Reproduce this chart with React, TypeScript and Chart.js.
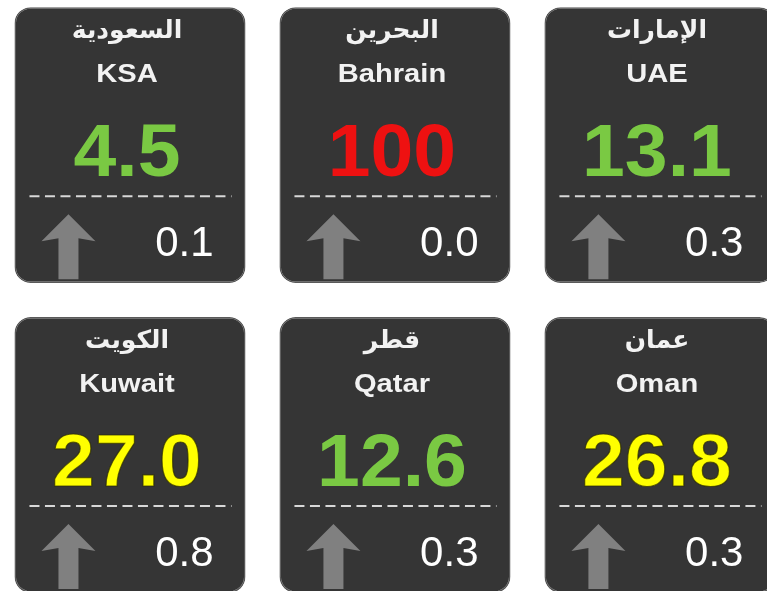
import React, { useEffect, useRef } from "react";
import { Chart, registerables } from "chart.js";

Chart.register(...registerables);

// ---- data ----
const COUNTRIES_EN = ["KSA", "Bahrain", "UAE", "Kuwait", "Qatar", "Oman"];
const COUNTRIES_AR = ["السعودية", "البحرين", "الإمارات", "الكويت", "قطر", "عمان"];
const VALUES = [4.5, 100, 13.1, 27.0, 12.6, 26.8];
const CHANGES = [0.1, 0.0, 0.3, 0.8, 0.3, 0.3];
const STATUS = ["good", "bad", "good", "warn", "good", "warn"];
const GRID_COL = [0, 1, 2, 0, 1, 2];
const GRID_ROW = [0, 0, 0, 1, 1, 1];

// ---- styles ----
const STATUS_COLORS: Record<string, string> = {
  good: "#7ac943",
  bad: "#ee1111",
  warn: "#ffff00",
};
const TILE_SPAN = 0.89;
const LATIN = "'Liberation Sans', Arial, 'DejaVu Sans', sans-serif";
const ARABIC = "'DejaVu Sans', 'Liberation Sans', sans-serif";

const fmtValue = (v: number) => (v >= 100 ? v.toFixed(0) : v.toFixed(1));

const tilePlugin = {
  id: "tileText",
  afterDatasetsDraw(chart: any) {
    const ctx: CanvasRenderingContext2D = chart.ctx;
    const meta = chart.getDatasetMeta(0);
    meta.data.forEach((el: any, i: number) => {
      const { x, y, base, width } = el.getProps(["x", "y", "base", "width"], true);
      const top = Math.min(y, base);
      const left = x - width / 2;
      const right = x + width / 2;
      const cx = x - 3;
      ctx.save();
      ctx.textAlign = "center";
      ctx.textBaseline = "middle";
      // Arabic name
      ctx.fillStyle = "#f2f2f2";
      ctx.font = `bold 25px ${ARABIC}`;
      ctx.fillText(COUNTRIES_AR[i], cx, top + 24);
      // English name
      ctx.save();
      ctx.translate(cx, top + 68);
      ctx.scale(1.12, 1);
      ctx.font = `bold 26px ${LATIN}`;
      ctx.fillText(COUNTRIES_EN[i], 0, 0);
      ctx.restore();
      // Value
      ctx.textBaseline = "alphabetic";
      ctx.font = `bold 74px ${LATIN}`;
      const col = STATUS_COLORS[STATUS[i]];
      const txt = fmtValue(VALUES[i]);
      ctx.save();
      ctx.translate(cx, top + 169);
      ctx.scale(1.04, 1);
      ctx.fillStyle = col;
      ctx.fillText(txt, 0, 0);
      if (STATUS[i] === "warn") {
        ctx.strokeStyle = "rgba(40,40,0,0.7)";
        ctx.lineWidth = 1.2;
        ctx.strokeText(txt, 0, 0);
      }
      ctx.restore();
      // dashed separator
      ctx.beginPath();
      ctx.setLineDash([10, 5.5]);
      ctx.strokeStyle = "#d8d8d8";
      ctx.lineWidth = 2;
      ctx.moveTo(left + 15, top + 189);
      ctx.lineTo(right - 14, top + 189);
      ctx.stroke();
      ctx.setLineDash([]);
      // arrow
      const ax = left + 54;
      const up = CHANGES[i] >= 0;
      const tipY = top + 207;
      const headY = top + 234;
      const botY = top + 272;
      ctx.fillStyle = "#808080";
      ctx.beginPath();
      if (up) {
        ctx.moveTo(ax, tipY);
        ctx.lineTo(ax + 27, headY);
        ctx.lineTo(ax + 10, headY - 3);
        ctx.lineTo(ax + 10, botY);
        ctx.lineTo(ax - 10, botY);
        ctx.lineTo(ax - 10, headY - 3);
        ctx.lineTo(ax - 27, headY);
      } else {
        ctx.moveTo(ax, botY);
        ctx.lineTo(ax + 27, botY - 27);
        ctx.lineTo(ax + 10, botY - 24);
        ctx.lineTo(ax + 10, tipY);
        ctx.lineTo(ax - 10, tipY);
        ctx.lineTo(ax - 10, botY - 24);
        ctx.lineTo(ax - 27, botY - 27);
      }
      ctx.closePath();
      ctx.fill();
      // change value
      ctx.textAlign = "right";
      ctx.fillStyle = "#ffffff";
      ctx.font = `42px ${LATIN}`;
      ctx.fillText(Math.abs(CHANGES[i]).toFixed(1), right - 32, top + 249);
      ctx.restore();
    });
  },
};

export default function App() {
  const ref = useRef<HTMLCanvasElement | null>(null);
  useEffect(() => {
    if (!ref.current) return;
    const chart = new Chart(ref.current, {
      type: "bar",
      data: {
        datasets: [
          {
            data: GRID_COL.map((c, i) => ({ x: c, y: [GRID_ROW[i], GRID_ROW[i] + TILE_SPAN] })) as any,
            backgroundColor: "#353535",
            borderColor: "#5a5a5a",
            borderWidth: 1.5,
            borderRadius: 16,
            borderSkipped: false,
            barPercentage: 0.872,
            categoryPercentage: 1,
          },
        ],
      },
      options: {
        animation: false,
        responsive: false,
        layout: { padding: 0 },
        plugins: { legend: { display: false }, tooltip: { enabled: false } },
        scales: {
          x: {
            type: "linear",
            display: false,
            offset: false,
            min: -0.4906,
            max: 2.404,
            afterBuildTicks: (scale: any) => {
              scale.ticks = [0, 1, 2].map((v) => ({ value: v }));
            },
          },
          y: {
            type: "linear",
            display: false,
            reverse: true,
            min: -0.023,
            max: 1.884,
          },
        },
      },
      plugins: [tilePlugin],
    });
    return () => chart.destroy();
  }, []);
  return (
    <div style={{ position: "fixed", left: 0, top: 0, width: 767, height: 591, background: "#fff" }}>
      <canvas ref={ref} width={767} height={591} style={{ display: "block" }} />
    </div>
  );
}
